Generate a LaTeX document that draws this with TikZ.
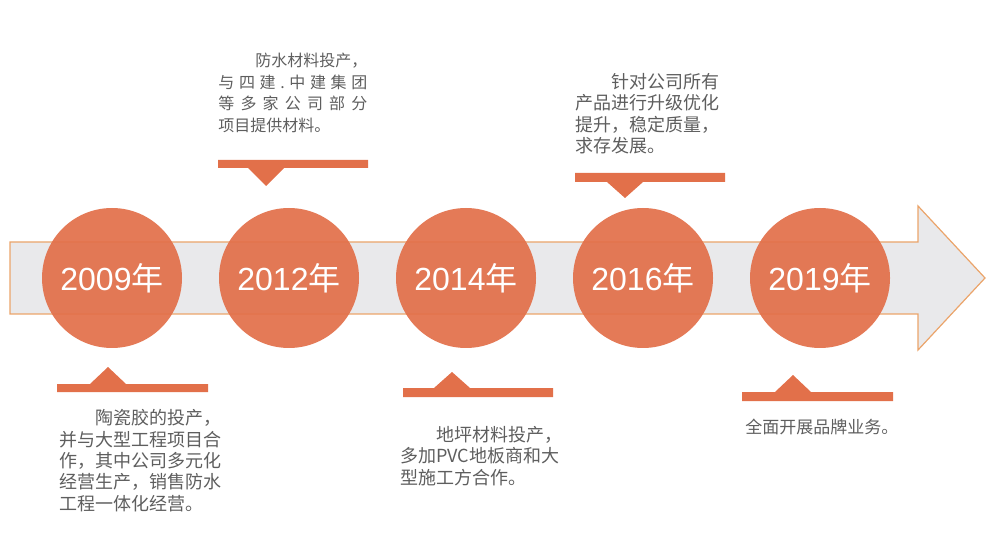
\documentclass[tikz,border=0pt]{standalone}
\usepackage{fontspec}
\setmainfont{Noto Sans CJK SC}
\newfontfamily\yearfont{Liberation Sans}
\usepackage{xcolor}
\definecolor{oorange}{HTML}{E2704A}
\definecolor{bband}{HTML}{E9E9EB}
\definecolor{bborder}{HTML}{EBA46A}
\definecolor{ggray}{HTML}{5E5E5E}
\usepackage{tikz}
\usetikzlibrary{calc}
\usetikzlibrary{positioning}
\newcommand{\yr}[1]{{\yearfont #1}年}
\begin{document}
\begin{tikzpicture}[x=0.5pt,y=-0.5pt,
  year/.style={circle,fill=oorange,fill opacity=.93,text opacity=1,minimum size=70pt,inner sep=0pt,text=white,font=\fontsize{16}{16}\selectfont},
  note/.style={anchor=north west,inner sep=0pt,align=left,text=ggray,font=\fontsize{9}{10.7}\selectfont}]
\useasboundingbox (0,0) rectangle (1000,539);
% band with arrow head
\draw[fill=bband,draw=bborder,line width=0.6pt] (10,242) -- (918,242) -- (918,206) -- (985,278) -- (918,350) -- (918,314) -- (10,314) -- cycle;
% years
\node[year] (y2009) at (112,278) {\yr{2009}};
\node[year] (y2012) at (289,278) {\yr{2012}};
\node[year] (y2014) at (466,278) {\yr{2014}};
\node[year] (y2016) at (643,278) {\yr{2016}};
\node[year] (y2019) at (820,278) {\yr{2019}};
% pointer bars
\fill[oorange] (57,384) rectangle (208,392) (90,384) -- (108,367) -- (126,384) -- cycle;
\fill[oorange] (218,160) rectangle (368,168) (248,168) -- (266,186) -- (284,168) -- cycle;
\fill[oorange] (403,388) rectangle (553,397) (434,388) -- (452,372) -- (470,388) -- cycle;
\fill[oorange] (575,173) rectangle (725,182) (607,182) -- (625,198) -- (643,182) -- cycle;
\fill[oorange] (742,392) rectangle (893,401) (775,392) -- (793,375) -- (811,392) -- cycle;
% notes
\node[note] (t2009) at (59,409) {\hspace{2em}陶瓷胶的投产，\\并与大型工程项目合\\作，其中公司多元化\\经营生产，销售防水\\工程一体化经营。};
\node[note,font=\fontsize{8}{10.7}\selectfont] (t2012) at (218,53) {\hspace{18.5pt}防水材料投产，\\\makebox[74.5pt][s]{与\hfill 四\hfill 建\hfill .\hfill 中\hfill 建\hfill 集\hfill 团}\\\makebox[74.5pt][s]{等\hfill 多\hfill 家\hfill 公\hfill 司\hfill 部\hfill 分}\\项目提供材料。};
\node[note] (t2014) at (400,426) {\hspace{2em}地坪材料投产，\\多加PVC地板商和大\\型施工方合作。};
\node[note] (t2016) at (575,73) {\hspace{2em}针对公司所有\\产品进行升级优化\\提升，稳定质量，\\求存发展。};
\node[note,font=\fontsize{8.5}{10.7}\selectfont] (t2019) at (745,419) {全面开展品牌业务。};
\end{tikzpicture}
\end{document}
